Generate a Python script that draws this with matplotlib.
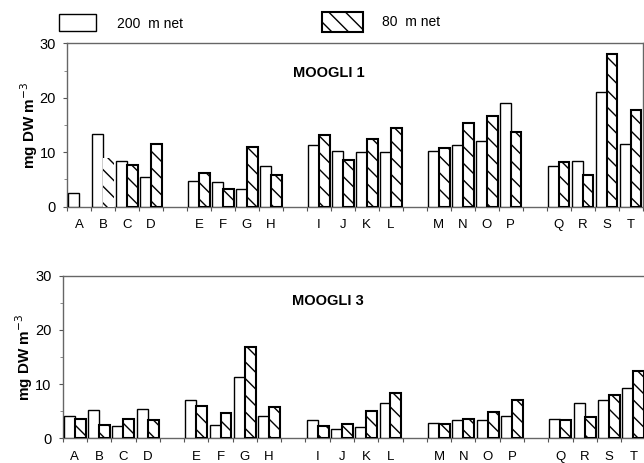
import matplotlib
matplotlib.use("Agg")
import matplotlib.pyplot as plt
from matplotlib.patches import Rectangle

plt.rcParams['font.family'] = ['Liberation Sans', 'DejaVu Sans']
plt.rcParams['hatch.linewidth'] = 1.0

letters = list("ABCDEFGHIJKLMNOPQRST")
m1_200 = [2.6, 13.4, 8.3, 5.5, 4.7, 4.6, 3.3, 7.4, 11.4, 10.3, 10.0, 10.0,
          10.3, 11.3, 12.1, 19.1, 7.5, 8.3, 21.1, 11.6]
m1_80 = [0.0, 8.9, 7.6, 11.6, 6.2, 3.3, 10.9, 5.9, 13.1, 8.6, 12.4, 14.4,
         10.8, 15.4, 16.7, 13.8, 8.2, 5.9, 28.0, 17.7]
m3_200 = [4.1, 5.2, 2.3, 5.4, 7.1, 2.5, 11.4, 4.2, 3.4, 1.7, 2.0, 6.6,
          2.8, 3.4, 3.3, 4.1, 3.6, 6.5, 7.0, 9.3]
m3_80 = [3.5, 2.5, 3.5, 3.4, 6.0, 4.7, 16.8, 5.8, 2.3, 2.6, 5.0, 8.4,
         2.7, 3.5, 4.8, 7.1, 3.3, 3.9, 8.0, 12.5]
titles = ["MOOGLI 1", "MOOGLI 3"]
ylabel = "mg DW m$^{-3}$"
legend_labels = ["200  m net", "80  m net"]

W, H = 644, 463
fig = plt.figure(figsize=(W / 100, H / 100), dpi=100)

def ax_px(left, right, top, bottom):
    return fig.add_axes([left / W, (H - bottom) / H, (right - left) / W, (bottom - top) / H])

axes = [ax_px(67, 642.6, 43.3, 206.7), ax_px(62.7, 645.4, 275.7, 438.3)]
data = [(m1_200, m1_80), (m3_200, m3_80)]
slots = [(k // 4) * 5 + (k % 4) for k in range(20)]

for p, ax in enumerate(axes):
    v200, v80 = data[p]
    for k in range(20):
        s = slots[k]
        ax.bar(s + 0.05, v200[k], width=0.45, align='edge', facecolor='white',
               edgecolor='black', linewidth=1.0, zorder=3)
        if v80[k] > 0:
            lw = 0 if (p == 0 and k == 1) else 1.5
            ax.bar(s + 0.5, v80[k], width=0.45, align='edge', facecolor='white',
                   edgecolor='black', hatch='\\\\', linewidth=lw, zorder=3)
    ax.set_xlim(0, 24)
    ax.set_ylim(0, 30)
    ax.set_yticks([0, 10, 20, 30])
    ax.set_yticks([5, 15, 25], minor=True)
    ax.tick_params(axis='y', which='major', length=3, width=0.8, labelsize=10.5, pad=5, color='#555555')
    ax.tick_params(axis='y', which='minor', length=2, width=0.6, color='#777777')
    bounds = sorted(set([s for s in slots] + [s + 1 for s in slots]))
    ax.set_xticks(bounds)
    ax.set_xticklabels([''] * len(bounds))
    ax.set_xticks([s + 0.5 for s in slots], minor=True)
    ax.set_xticklabels(letters, minor=True)
    ax.tick_params(axis='x', which='major', length=3, width=0.8, color='#555555')
    ax.tick_params(axis='x', which='minor', length=0, labelsize=9.5, pad=9)
    for side in ['left', 'top', 'right', 'bottom']:
        ax.spines[side].set_linestyle((0, (1, 1)))
        ax.spines[side].set_color('#666666')
        ax.spines[side].set_linewidth(1.0)
    ax.set_ylabel(ylabel, fontsize=11, fontweight='bold', labelpad=0)
    ax.text(0.455, 0.82 if p == 0 else 0.846, titles[p], transform=ax.transAxes,
            ha='center', va='center', fontsize=10.5, fontweight='bold')

# legend
def fig_rect(x0, x1, y0, y1, **kw):
    r = Rectangle((x0 / W, (H - y1) / H), (x1 - x0) / W, (y1 - y0) / H,
                  transform=fig.transFigure, **kw)
    fig.add_artist(r)

fig_rect(59, 96, 14, 31, facecolor='white', edgecolor='black', linewidth=1.0)
fig_rect(322, 363, 12, 32, facecolor='white', edgecolor='black', linewidth=1.5, hatch='\\\\')
fig.text(117 / W, 1 - 23.5 / H, legend_labels[0], ha='left', va='center', fontsize=10)
fig.text(382 / W, 1 - 22.5 / H, legend_labels[1], ha='left', va='center', fontsize=10)

fig.savefig("out.png", dpi=100)
